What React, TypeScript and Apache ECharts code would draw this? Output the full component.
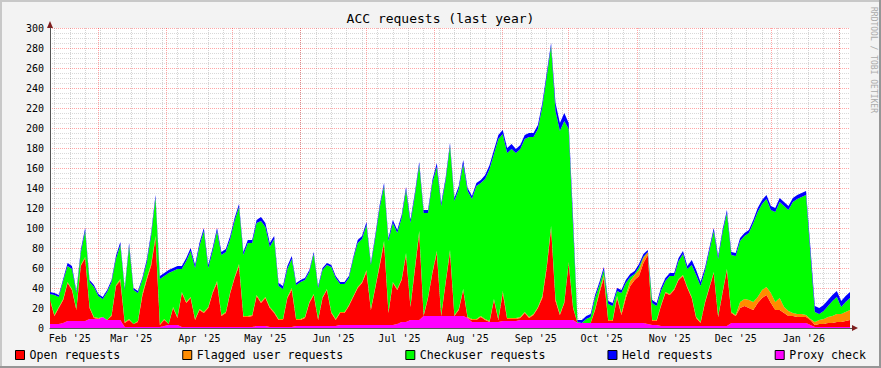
import { useEffect, useRef } from 'react';
import * as echarts from 'echarts';

// Time frame: one sample every 2 days, 2025-02-07 .. 2026-02-06
const START_DATE = '2025-02-07';
const GRID_DAYS = 365;
const SAMPLE_STEP_DAYS = 2;
const MONTH_NAMES = ['Jan', 'Feb', 'Mar', 'Apr', 'May', 'Jun', 'Jul', 'Aug', 'Sep', 'Oct', 'Nov', 'Dec'];

const proxyCheck = [
  4, 4, 4, 5, 7, 7, 7, 7, 7, 9,
  9, 9, 11, 8, 8, 8, 8, 1, 1, 1,
  1, 1, 1, 1, 1, 1, 2, 3, 3, 3,
  1, 1, 1, 1, 1, 1, 1, 1, 1, 1,
  1, 1, 1, 1, 1, 1, 1, 2, 2, 2,
  1, 1, 1, 1, 1, 1, 2, 2, 2, 2,
  2, 2, 2, 2, 2, 2, 3, 3, 3, 3,
  3, 3, 3, 3, 3, 3, 3, 3, 3, 4,
  6, 6, 8, 8, 8, 12, 12, 12, 12, 12,
  12, 12, 12, 12, 12, 10, 6, 6, 6, 6,
  6, 6, 6, 7, 7, 7, 7, 8, 8, 8,
  8, 8, 8, 8, 8, 8, 8, 8, 8, 8,
  5, 5, 5, 5, 5, 5, 5, 5, 5, 5,
  5, 5, 5, 5, 5, 5, 4, 3, 3, 2,
  2, 2, 2, 2, 2, 2, 2, 2, 2, 2,
  2, 2, 2, 2, 2, 5, 5, 5, 5, 5,
  5, 5, 5, 5, 5, 5, 5, 5, 5, 5,
  5, 5, 5, 3, 1, 1, 1, 1, 1, 1,
  1, 1, 1,
];

const openRequests = [
  24, 8, 16, 23, 38, 31, 11, 55, 63, 11,
  1, 0, 0, 0, 4, 34, 39, 4, 7, 3,
  5, 31, 47, 61, 89, 2, 6, 1, 17, 7,
  34, 24, 29, 7, 17, 14, 19, 34, 44, 11,
  14, 34, 49, 61, 10, 10, 11, 30, 23, 28,
  19, 14, 7, 7, 29, 37, 6, 6, 8, 23,
  31, 6, 28, 36, 13, 6, 12, 12, 19, 28,
  37, 42, 53, 15, 37, 59, 82, 12, 42, 34,
  42, 67, 13, 50, 87, 0, 18, 43, 63, 0,
  33, 64, 0, 6, 26, 0, 2, 2, 5, 2,
  0, 22, 2, 28, 2, 2, 2, 2, 7, 2,
  5, 12, 22, 52, 92, 19, 5, 17, 57, 12,
  0, 0, 0, 0, 13, 30, 45, 2, 2, 25,
  8, 25, 37, 43, 47, 60, 69, 4, 4, 20,
  33, 31, 36, 46, 50, 38, 28, 8, 3, 23,
  38, 53, 9, 33, 56, 10, 7, 15, 17, 15,
  13, 20, 25, 28, 20, 13, 13, 10, 7, 7,
  6, 6, 6, 5, 2, 3, 3, 4, 4, 5,
  5, 6, 7,
];

const flaggedUserRequests = [
  1, 1, 1, 1, 1, 1, 1, 1, 1, 1,
  1, 1, 0, 0, 1, 1, 2, 1, 1, 0,
  1, 2, 2, 2, 2, 1, 1, 0, 1, 1,
  1, 1, 1, 1, 1, 1, 1, 1, 2, 1,
  1, 1, 1, 2, 1, 1, 1, 1, 1, 1,
  1, 1, 1, 1, 1, 2, 1, 1, 1, 1,
  1, 1, 1, 1, 1, 1, 1, 1, 1, 1,
  1, 1, 2, 1, 1, 2, 2, 1, 1, 1,
  1, 2, 1, 2, 2, 1, 1, 1, 2, 1,
  1, 2, 1, 1, 1, 1, 1, 1, 1, 1,
  1, 1, 1, 2, 1, 1, 1, 1, 1, 1,
  1, 1, 2, 2, 2, 2, 1, 1, 1, 1,
  0, 0, 0, 0, 1, 2, 3, 1, 1, 2,
  2, 3, 5, 5, 6, 5, 3, 1, 1, 1,
  1, 1, 1, 1, 1, 1, 1, 1, 1, 1,
  1, 1, 1, 1, 1, 1, 1, 6, 7, 8,
  8, 6, 8, 8, 10, 8, 12, 6, 5, 3,
  3, 3, 2, 1, 3, 4, 5, 6, 7, 8,
  8, 9, 10,
];

const checkuserRequests = [
  5, 20, 10, 18, 16, 20, 16, 12, 26, 25,
  30, 22, 18, 28, 33, 26, 34, 32, 73, 34,
  28, 14, 15, 28, 38, 45, 43, 51, 36, 48,
  23, 41, 46, 51, 63, 81, 39, 41, 50, 60,
  60, 53, 56, 57, 61, 73, 72, 72, 81, 70,
  60, 73, 33, 30, 28, 29, 34, 37, 37, 30,
  40, 31, 27, 24, 45, 41, 28, 28, 27, 37,
  44, 43, 45, 44, 49, 56, 55, 71, 59, 56,
  61, 63, 83, 72, 66, 102, 84, 89, 84, 109,
  101, 104, 114, 120, 125, 126, 120, 133, 133, 140,
  152, 145, 180, 157, 165, 169, 165, 168, 173, 180,
  177, 178, 189, 189, 180, 188, 183, 181, 133, 81,
  1, 0, 4, 6, 11, 6, 5, 16, 14, 5,
  20, 12, 4, 1, 3, 1, 0, 17, 14, 14,
  11, 18, 13, 18, 21, 18, 32, 42, 36, 31,
  36, 41, 57, 59, 56, 57, 59, 61, 63, 67,
  79, 85, 86, 88, 83, 90, 96, 101, 101, 111,
  115, 117, 120, 65, 10, 6, 8, 11, 15, 17,
  7, 10, 12,
];

const heldRequests = [
  2, 2, 2, 2, 3, 3, 2, 3, 3, 2,
  2, 2, 2, 2, 2, 3, 3, 2, 3, 2,
  2, 2, 3, 3, 3, 3, 3, 3, 3, 3,
  3, 3, 3, 3, 3, 3, 3, 3, 3, 3,
  3, 3, 3, 3, 3, 3, 3, 3, 4, 4,
  4, 3, 3, 3, 3, 3, 2, 2, 2, 2,
  2, 2, 2, 2, 2, 2, 2, 2, 2, 2,
  3, 3, 3, 2, 3, 3, 3, 3, 3, 3,
  3, 3, 3, 3, 3, 3, 3, 3, 4, 3,
  3, 3, 3, 3, 4, 3, 3, 3, 3, 4,
  4, 4, 4, 4, 5, 5, 4, 4, 4, 4,
  4, 4, 4, 4, 3, 8, 8, 8, 6, 8,
  2, 3, 3, 3, 3, 3, 3, 3, 3, 3,
  3, 3, 3, 3, 3, 3, 2, 3, 3, 3,
  3, 3, 3, 3, 3, 3, 5, 5, 4, 3,
  3, 3, 3, 3, 3, 3, 3, 3, 3, 3,
  3, 4, 4, 4, 4, 4, 4, 4, 4, 4,
  4, 4, 4, 6, 6, 6, 6, 6, 6, 6,
  6, 6, 6,
];

const yTickValues = { min: 0, max: 300, step: 20, minorSplits: 4 };

const legendNames = ['Open requests', 'Flagged user requests', 'Checkuser requests', 'Held requests', 'Proxy check'];

function dayString(offset: number): string {
  const d = new Date(START_DATE + 'T00:00:00Z');
  d.setUTCDate(d.getUTCDate() + offset);
  return d.toISOString().slice(0, 10);
}

function parse(v: string) {
  return new Date(v + 'T00:00:00Z');
}

export default function App() {
  const ref = useRef<HTMLDivElement>(null);

  useEffect(() => {
    if (!ref.current) return;
    const chart = echarts.init(ref.current, undefined, { renderer: 'svg' });

    const gridDays = Array.from({ length: GRID_DAYS }, (_, i) => dayString(i));
    const sampleDays = openRequests.map((_, i) => dayString(i * SAMPLE_STEP_DAYS));

    const font = '"DejaVu Sans Mono", monospace';

    const mk = (name: string, data: number[], color: string) => ({
      name,
      type: 'line',
      xAxisIndex: 2,
      stack: 'total',
      data,
      symbol: 'none',
      showSymbol: false,
      silent: true,
      lineStyle: { width: 0, color },
      itemStyle: { color },
      areaStyle: { color, opacity: 1 },
      emphasis: { disabled: true },
    });

    const option: any = {
      animation: false,
      backgroundColor: '#F3F3F3',
      textStyle: { fontFamily: font },
      title: {
        text: 'ACC requests (last year)',
        left: 'center',
        top: 12,
        padding: 0,
        textStyle: { fontFamily: font, fontSize: 13, fontWeight: 'normal', color: '#000' },
      },
      legend: {
        data: legendNames,
        left: 15,
        top: 349,
        padding: 0,
        itemWidth: 9,
        itemHeight: 9,
        itemGap: 62,
        icon: 'rect',
        selectedMode: false,
        itemStyle: { borderColor: '#000', borderWidth: 1 },
        textStyle: { fontFamily: font, fontSize: 11.6, color: '#000' },
      },
      grid: { left: 50, top: 28, width: 800, height: 300, show: true, backgroundColor: '#FFFFFF', borderWidth: 0 },
      xAxis: [
        {
          type: 'category',
          data: gridDays,
          boundaryGap: false,
          position: 'bottom',
          axisLine: { show: true, lineStyle: { color: '#555', width: 1 } },
          axisTick: { show: false },
          axisLabel: {
            interval: (_i: number, v: string) => parse(v).getUTCDate() === 16,
            formatter: (v: string) => {
              const d = parse(v);
              return MONTH_NAMES[d.getUTCMonth()] + " '" + String(d.getUTCFullYear()).slice(2);
            },
            fontFamily: font,
            fontSize: 10,
            color: '#000',
            margin: 5,
          },
          splitLine: {
            show: true,
            interval: (_i: number, v: string) => parse(v).getUTCDay() === 0,
            lineStyle: { color: 'rgba(120,120,120,0.32)', width: 1, type: [1, 1] },
          },
        },
        {
          type: 'category',
          data: gridDays,
          boundaryGap: false,
          position: 'bottom',
          axisLine: { show: false },
          axisTick: { show: false },
          axisLabel: { show: false },
          splitLine: {
            show: true,
            interval: (_i: number, v: string) => parse(v).getUTCDate() === 1,
            lineStyle: { color: 'rgba(255,0,0,0.35)', width: 1, type: [1, 1] },
          },
        },
        { type: 'category', data: sampleDays, boundaryGap: false, show: false },
      ],
      yAxis: {
        type: 'value',
        min: yTickValues.min,
        max: yTickValues.max,
        interval: yTickValues.step,
        axisLine: { show: true, lineStyle: { color: '#555', width: 1 } },
        axisTick: { show: false },
        axisLabel: { fontFamily: font, fontSize: 10, color: '#000', margin: 6 },
        splitLine: { show: true, lineStyle: { color: 'rgba(255,0,0,0.35)', width: 1, type: [1, 1] } },
        minorTick: { show: false, splitNumber: yTickValues.minorSplits },
        minorSplitLine: { show: true, lineStyle: { color: 'rgba(120,120,120,0.28)', width: 1, type: [1, 1] } },
      },
      series: [
        mk('Proxy check', proxyCheck, '#FF00FF'),
        mk('Open requests', openRequests, '#FF0000'),
        mk('Flagged user requests', flaggedUserRequests, '#FF8C00'),
        mk('Checkuser requests', checkuserRequests, '#00FF00'),
        mk('Held requests', heldRequests, '#0000FF'),
      ],
      graphic: [
        { type: 'rect', shape: { x: 0, y: 0, width: 881, height: 2 }, style: { fill: '#C8C8C8' }, silent: true },
        { type: 'rect', shape: { x: 0, y: 0, width: 2, height: 368 }, style: { fill: '#C8C8C8' }, silent: true },
        { type: 'rect', shape: { x: 0, y: 366, width: 881, height: 2 }, style: { fill: '#969696' }, silent: true },
        { type: 'rect', shape: { x: 879, y: 0, width: 2, height: 368 }, style: { fill: '#969696' }, silent: true },
        { type: 'line', shape: { x1: 850, y1: 328.5, x2: 854, y2: 328.5 }, style: { stroke: '#555', lineWidth: 1 }, silent: true },
        { type: 'polygon', shape: { points: [[47, 28], [53, 28], [50, 21]] }, style: { fill: '#7F1F1F' }, silent: true },
        { type: 'polygon', shape: { points: [[852, 325], [852, 331], [858, 328]] }, style: { fill: '#7F1F1F' }, silent: true },
        {
          type: 'text',
          x: 873,
          y: 60,
          rotation: -Math.PI / 2,
          silent: true,
          style: {
            text: 'RRDTOOL / TOBI OETIKER',
            font: '8px "DejaVu Sans Mono"',
            fill: '#AAAAAA',
            align: 'center',
            verticalAlign: 'middle',
          },
        },
      ],
    };

    chart.setOption(option);
    return () => chart.dispose();
  }, []);

  return <div ref={ref} style={{ position: 'fixed', left: 0, top: 0, width: 881, height: 368 }} />;
}
